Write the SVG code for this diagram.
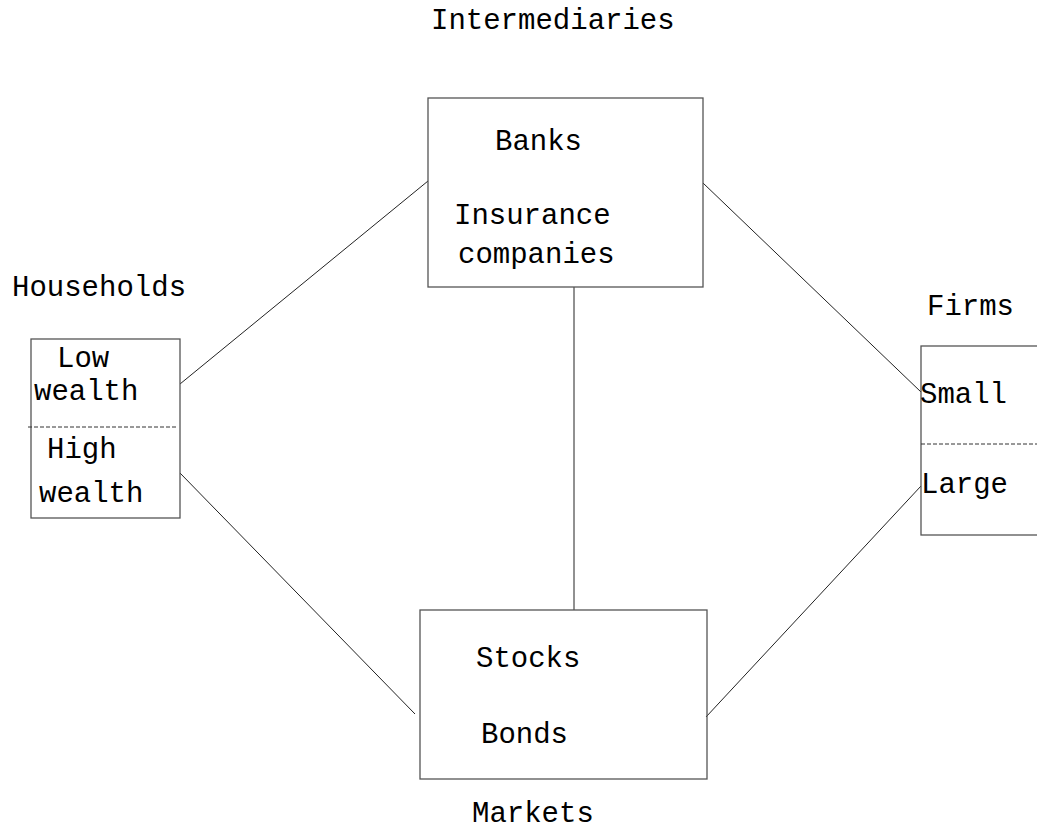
<svg xmlns="http://www.w3.org/2000/svg" width="1037" height="833" viewBox="0 0 1037 833">
<style>
text{font-family:"Liberation Mono","Courier New",monospace;font-size:29px;fill:#000}
.box{fill:none;stroke:#555;stroke-width:1.3}
.div{stroke:#333;stroke-width:1;stroke-dasharray:4 2}
.conn line{stroke:#222;stroke-width:1}
</style>
<rect width="1037" height="833" fill="#fff"/>
<g class="conn" id="connectors">
<line x1="180" y1="384" x2="428" y2="181"/>
<line x1="180" y1="473" x2="415" y2="714"/>
<line x1="703" y1="183" x2="921" y2="392"/>
<line x1="706" y1="717" x2="921" y2="486"/>
<line x1="574" y1="287" x2="574" y2="610"/>
</g>
<g id="intermediaries">
<rect class="box" x="428" y="98" width="275" height="189"/>
<text x="431" y="29">Intermediaries</text>
<text x="495" y="150">Banks</text>
<text x="454" y="224">Insurance</text>
<text x="458" y="263">companies</text>
</g>
<g id="households">
<rect class="box" x="31" y="339" width="149" height="179"/>
<line class="div" x1="28" y1="427" x2="178" y2="427"/>
<text x="12" y="296">Households</text>
<text x="57" y="367">Low</text>
<text x="34" y="400">wealth</text>
<text x="47" y="458">High</text>
<text x="39" y="502">wealth</text>
</g>
<g id="firms">
<rect class="box" x="921" y="346" width="130" height="189"/>
<line class="div" x1="921" y1="444" x2="1037" y2="444"/>
<text x="927" y="315">Firms</text>
<text x="920" y="403">Small</text>
<text x="921" y="493">Large</text>
</g>
<g id="markets">
<rect class="box" x="420" y="610" width="287" height="169"/>
<text x="476" y="667">Stocks</text>
<text x="481" y="743">Bonds</text>
<text x="472" y="822">Markets</text>
</g>
</svg>
